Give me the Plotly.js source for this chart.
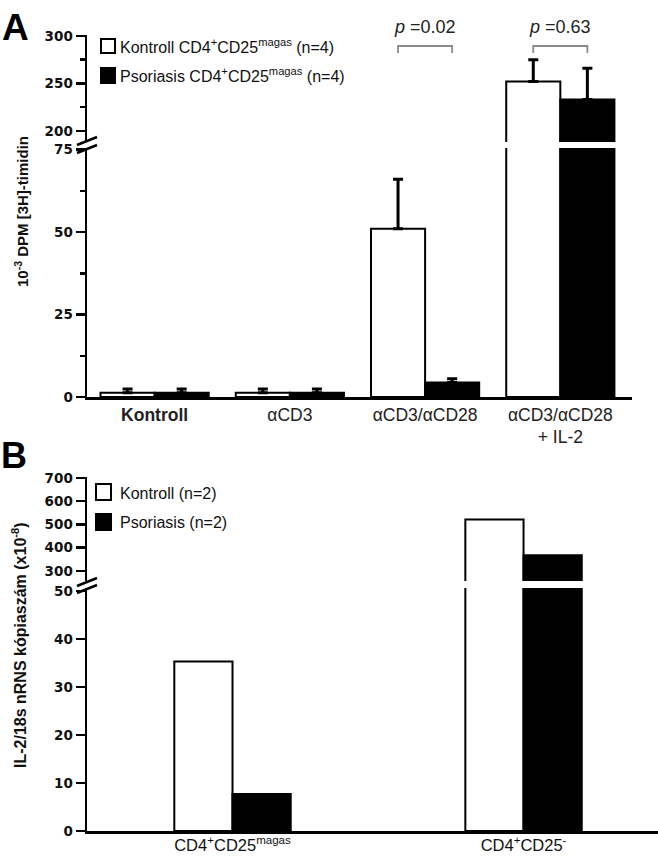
<!DOCTYPE html>
<html>
<head>
<meta charset="utf-8">
<script src="https://cdn.plot.ly/plotly-3.0.1.min.js"></script>
<style>html,body{margin:0;padding:0;background:#fff;}#chart{width:658px;height:856px;}</style>
</head>
<body>
<div id="chart"></div>
<script>
// ---------- Data ----------
const groupsA = [0, 1, 2, 3];
const tickTextA = ['<b>Kontroll</b>', 'αCD3', 'αCD3/αCD28', 'αCD3/αCD28<br>+ IL-2'];
const kontrollA = [1.3, 1.3, 51, 252];
const kontrollErrA = [1.1, 1.1, 15, 23];
const psoriasisA = [1.3, 1.3, 4.4, 233];
const psoriasisErrA = [1.1, 1.1, 1.1, 33];
const seriesNamesA = ['Kontroll CD4<sup>+</sup>CD25<sup>magas</sup> (n=4)', 'Psoriasis CD4<sup>+</sup>CD25<sup>magas</sup> (n=4)'];
const pGroups = [2, 3];
const pTexts = ['<i>p</i> =0.02', '<i>p</i> =0.63'];
const yTicksALower = [0, 25, 50, 75];
const yMinorALower = [12.5, 37.5, 62.5];
const yTicksAUpper = [200, 250, 300];
const yMinorAUpper = [225, 275];

const groupsB = [0, 1];
const tickTextB = ['CD4<sup>+</sup>CD25<sup>magas</sup>', 'CD4<sup>+</sup>CD25<sup>-</sup>'];
const kontrollB = [35.3, 521];
const psoriasisB = [7.7, 368];
const seriesNamesB = ['Kontroll (n=2)', 'Psoriasis (n=2)'];
const yTicksBLower = [0, 10, 20, 30, 40, 50];
const yTicksBUpper = [300, 400, 500, 600, 700];

// ---------- Helpers ----------
const W = 658, H = 856;
const px = x => x / W;
const py = y => (H - y) / H;
const FONT = '"Liberation Sans", Arial, Helvetica, sans-serif';
const zeros = a => a.map(() => 0);

function barTrace(x, y, err, fill, w, off, xa, ya) {
  const t = {
    type: 'bar', x: x, y: y, width: w, offset: off,
    xaxis: xa, yaxis: ya, showlegend: false, hoverinfo: 'skip',
    marker: {color: fill, line: {color: '#000', width: 2}}
  };
  if (err) {
    t.error_y = {type: 'data', symmetric: false, array: err, arrayminus: zeros(err),
                 color: '#000', thickness: 3, width: 5};
  }
  return t;
}

const traces = [];
['x', 'x2'].forEach((xa, i) => {
  const ya = i === 0 ? 'y' : 'y2';
  traces.push(barTrace(groupsA, kontrollA, kontrollErrA, '#fff', 0.4, -0.4, xa, ya));
  traces.push(barTrace(groupsA, psoriasisA, psoriasisErrA, '#000', 0.4, 0, xa, ya));
});
['x3', 'x4'].forEach((xa, i) => {
  const ya = i === 0 ? 'y3' : 'y4';
  traces.push(barTrace(groupsB, kontrollB, null, '#fff', 0.2, -0.2, xa, ya));
  traces.push(barTrace(groupsB, psoriasisB, null, '#000', 0.2, 0, xa, ya));
});

const yTickFont = {family: '"DejaVu Sans", sans-serif', size: 13.5, color: '#111'};
function yAxis(domain, range, tickvals, anchor, minorVals) {
  const ax = {
    domain: domain, range: range, anchor: anchor, tickmode: 'array', tickvals: tickvals,
    ticktext: tickvals.map(v => '<b>' + v + '</b>'),
    ticks: 'outside', ticklen: 9, tickwidth: 2.5, tickcolor: '#000',
    showline: true, linewidth: 2.5, linecolor: '#000', showgrid: false, zeroline: false,
    tickfont: yTickFont, fixedrange: true
  };
  if (minorVals) {
    ax.minor = {tickmode: 'array', tickvals: minorVals, ticks: 'outside', ticklen: 5, tickwidth: 2.5, tickcolor: '#000', showgrid: false};
  }
  return ax;
}

const layout = {
  width: W, height: H,
  margin: {l: 0, r: 0, t: 0, b: 0},
  paper_bgcolor: '#fff', plot_bgcolor: 'rgba(0,0,0,0)',
  barmode: 'overlay',
  showlegend: false,
  font: {family: FONT, color: '#000'},
  xaxis: {
    domain: [px(87), px(632)], range: [-0.5, 3.53], anchor: 'y',
    tickmode: 'array', tickvals: groupsA, ticktext: tickTextA, ticks: '',
    showline: true, linewidth: 2.5, linecolor: '#000', showgrid: false, zeroline: false,
    tickfont: {family: FONT, size: 17.5, color: '#222'}, ticklabelstandoff: 0, fixedrange: true
  },
  xaxis2: {domain: [px(87), px(632)], range: [-0.5, 3.53], anchor: 'y2', visible: false, fixedrange: true},
  yaxis: yAxis([py(397), py(148)], [0, 75.5], yTicksALower, 'x', yMinorALower),
  yaxis2: yAxis([py(142), py(35)], [188.4, 301], yTicksAUpper, 'x2', yMinorAUpper),
  xaxis3: {
    domain: [px(87), 1], range: [-0.5, 1.462], anchor: 'y3',
    tickmode: 'array', tickvals: groupsB, ticktext: tickTextB, ticks: '',
    showline: true, linewidth: 2.5, linecolor: '#000', showgrid: false, zeroline: false,
    tickfont: {family: FONT, size: 16.5, color: '#111'}, ticklabelstandoff: -2, fixedrange: true
  },
  xaxis4: {domain: [px(87), 1], range: [-0.5, 1.462], anchor: 'y4', visible: false, fixedrange: true},
  yaxis3: yAxis([py(831), py(588)], [0, 50.6], yTicksBLower, 'x3'),
  yaxis4: yAxis([py(581), py(477)], [257, 704], yTicksBUpper, 'x4'),
  shapes: [],
  annotations: []
};

// p-value brackets (upper subplot of A)
pGroups.forEach((g, i) => {
  layout.shapes.push({
    type: 'path', xref: 'x2', yref: 'y2',
    path: `M ${g - 0.2},282 L ${g - 0.2},289.4 L ${g + 0.2},289.4 L ${g + 0.2},282`,
    line: {color: '#8a8a8a', width: 1.8}
  });
  layout.annotations.push({
    xref: 'x2', yref: 'paper', x: g, y: py(27), text: pTexts[i], showarrow: false,
    xanchor: 'center', yanchor: 'middle', font: {family: FONT, size: 18, color: '#222'}
  });
});

// Axis break marks
function breakMarks(y1, y2) {
  [[77, y1 + 4, 97, y1 - 4], [77, y2 + 4, 97, y2 - 4]].forEach(l => {
    layout.shapes.push({type: 'line', xref: 'paper', yref: 'paper',
      x0: px(l[0]), y0: py(l[1]), x1: px(l[2]), y1: py(l[3]), line: {color: '#000', width: 2.5}});
  });
}
breakMarks(141, 149);
breakMarks(582, 589);

// Custom legends
function legendItem(x0, y0, x1, y1, fill, text, tx, ty) {
  layout.shapes.push({type: 'rect', xref: 'paper', yref: 'paper',
    x0: px(x0), x1: px(x1), y0: py(y1), y1: py(y0), fillcolor: fill, line: {color: '#000', width: 2}});
  layout.annotations.push({xref: 'paper', yref: 'paper', x: px(tx), y: py(ty), text: text,
    showarrow: false, xanchor: 'left', yanchor: 'middle', font: {family: FONT, size: 16, color: '#111'}});
}
legendItem(101, 39, 115, 53, '#fff', seriesNamesA[0], 118, 46);
legendItem(101, 68, 115, 83, '#000', seriesNamesA[1], 118, 75);
legendItem(96, 484, 111, 500, '#fff', seriesNamesB[0], 118, 493);
legendItem(96, 514, 111, 530, '#000', seriesNamesB[1], 118, 522);

// Axis titles and panel letters
layout.annotations.push({xref: 'paper', yref: 'paper', x: px(22), y: py(212),
  text: '<b>10<sup>-3</sup> DPM [3H]-timidin</b>', textangle: -90, showarrow: false,
  xanchor: 'center', yanchor: 'middle', font: {family: FONT, size: 15, color: '#111'}});
layout.annotations.push({xref: 'paper', yref: 'paper', x: px(19), y: py(645),
  text: '<b>IL-2/18s nRNS kópiaszám (x10<sup>-8</sup>)</b>', textangle: -90, showarrow: false,
  xanchor: 'center', yanchor: 'middle', font: {family: FONT, size: 16, color: '#111'}});
layout.annotations.push({xref: 'paper', yref: 'paper', x: px(15), y: py(28), text: '<b>A</b>',
  showarrow: false, xanchor: 'center', yanchor: 'middle', font: {family: FONT, size: 37, color: '#000'}});
layout.annotations.push({xref: 'paper', yref: 'paper', x: px(14), y: py(456), text: '<b>B</b>',
  showarrow: false, xanchor: 'center', yanchor: 'middle', font: {family: FONT, size: 36, color: '#000'}});

Plotly.newPlot('chart', traces, layout, {displayModeBar: false, staticPlot: true});
</script>
</body>
</html>
